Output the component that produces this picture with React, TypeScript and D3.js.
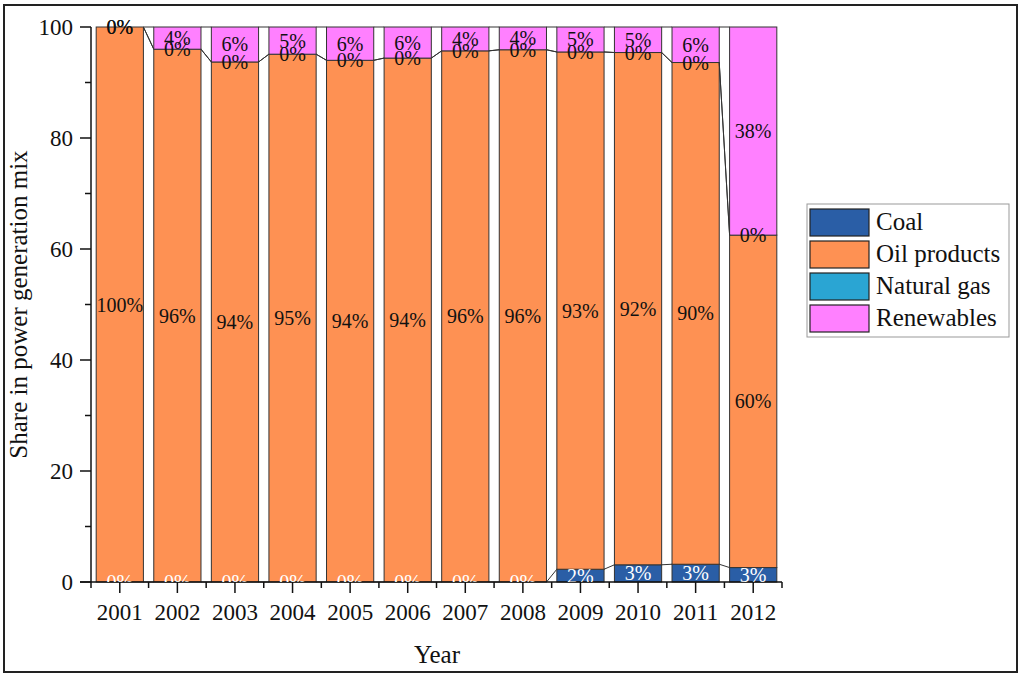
import * as d3 from "d3";

const years = ["2001", "2002", "2003", "2004", "2005", "2006", "2007", "2008", "2009", "2010", "2011", "2012"];
const coal = [0, 0, 0, 0, 0, 0, 0, 0, 2.3, 3.1, 3.2, 2.6];
const oil = [100, 96.0, 93.7, 95.1, 94.0, 94.4, 95.7, 95.9, 93.2, 92.3, 90.4, 59.9];
const gas = [0, 0, 0, 0, 0, 0, 0, 0, 0, 0, 0, 0];
const renewables = [0, 4.0, 6.3, 4.9, 6.0, 5.6, 4.3, 4.1, 4.5, 4.6, 6.4, 37.5];

const seriesNames = ["Coal", "Oil products", "Natural gas", "Renewables"];
const seriesColors = ["#2a5ea6", "#fe9153", "#2aa5d3", "#ff80ff"];
const labelColors = ["#ffffff", "#111111", "#111111", "#111111"];
const yTicks = [0, 20, 40, 60, 80, 100];

const font = "'Liberation Serif', 'Times New Roman', serif";

const rows = years.map((yr, i) => ({
  year: yr,
  Coal: coal[i],
  "Oil products": oil[i],
  "Natural gas": gas[i],
  Renewables: renewables[i],
}));

const x = d3.scaleBand()
  .domain(years)
  .range([91, 782])
  .paddingInner(0.18)
  .paddingOuter(0.09);

const y = d3.scaleLinear()
  .domain([0, 100])
  .range([582, 27]);

const stacked = d3.stack<any>().keys(seriesNames)(rows);

export default function App() {
  const bw = x.bandwidth();
  const step = x.step();
  const minorY = d3.range(10, 100, 20);
  const boundaries = d3.range(0, years.length + 1).map((k) => 91 + k * step);

  return (
    <svg width={1024} height={680} style={{ position: "absolute", left: 0, top: 0, background: "#fff" }} fontFamily={font}>
      <defs>
        <clipPath id="plotClip">
          <rect x={0} y={0} width={1024} height={y(0)} />
        </clipPath>
      </defs>
      <rect x={4} y={5} width={1013} height={667} fill="none" stroke="#222" strokeWidth={2} />

      {/* bars */}
      {stacked.map((layer, si) => (
        <g key={layer.key} fill={seriesColors[si]} stroke="#333" strokeWidth={1}>
          {layer.map((d, i) => (
            <rect key={i} x={x(years[i])} y={y(d[1])} width={bw} height={y(d[0]) - y(d[1])} />
          ))}
        </g>
      ))}

      {/* connect lines */}
      {stacked.map((layer) => (
        <g key={"c" + layer.key} stroke="#333" strokeWidth={1} fill="none">
          {layer.slice(0, -1).map((d, i) => (
            <line key={i}
              x1={(x(years[i]) as number) + bw} y1={y(d[1])}
              x2={x(years[i + 1]) as number} y2={y(layer[i + 1][1])} />
          ))}
        </g>
      ))}

      {/* axes */}
      <g stroke="#111" strokeWidth={1.5}>
        <line x1={91} y1={y(0)} x2={91} y2={y(100)} />
        {yTicks.map((t) => <line key={t} x1={80} x2={91} y1={y(t)} y2={y(t)} />)}
        {minorY.map((t) => <line key={t} x1={85} x2={91} y1={y(t)} y2={y(t)} />)}
        <line x1={80} y1={y(0)} x2={782} y2={y(0)} />
        {years.map((yr) => {
          const cx = (x(yr) as number) + bw / 2;
          return <line key={yr} x1={cx} x2={cx} y1={y(0)} y2={y(0) + 11} />;
        })}
        {boundaries.map((b, i) => <line key={i} x1={b} x2={b} y1={y(0)} y2={y(0) + 6} />)}
      </g>
      <g fontSize={23} fill="#111" textAnchor="end">
        {yTicks.map((t) => (
          <text key={t} x={73} y={y(t)} dy="0.35em">{t}</text>
        ))}
      </g>
      <g fontSize={23} fill="#111" textAnchor="middle">
        {years.map((yr) => (
          <text key={yr} x={(x(yr) as number) + bw / 2} y={620}>{yr}</text>
        ))}
      </g>

      {/* segment labels */}
      <g clipPath="url(#plotClip)" fontSize={20} textAnchor="middle">
        {stacked.map((layer, si) => (
          <g key={"l" + layer.key} fill={labelColors[si]}>
            {layer.map((d, i) => (
              <text key={i} x={(x(years[i]) as number) + bw / 2} y={(y(d[0]) + y(d[1])) / 2} dy="0.35em">
                {Math.round(d[1] - d[0])}%
              </text>
            ))}
          </g>
        ))}
      </g>

      {/* titles */}
      <text x={437} y={663} fontSize={25} textAnchor="middle" fill="#111">Year</text>
      <text transform={`translate(27,${(y(0) + y(100)) / 2}) rotate(-90)`} fontSize={25} textAnchor="middle" fill="#111">
        Share in power generation mix
      </text>

      {/* legend */}
      <rect x={807} y={204} width={202} height={133} fill="#fff" stroke="#999" strokeWidth={1} />
      {seriesNames.map((name, i) => (
        <g key={name} transform={`translate(810,${209 + i * 32})`}>
          <rect x={0} y={0} width={59} height={27} fill={seriesColors[i]} stroke="#222" strokeWidth={1.2} />
          <text x={66} y={21} fontSize={25} fill="#111">{name}</text>
        </g>
      ))}
    </svg>
  );
}
